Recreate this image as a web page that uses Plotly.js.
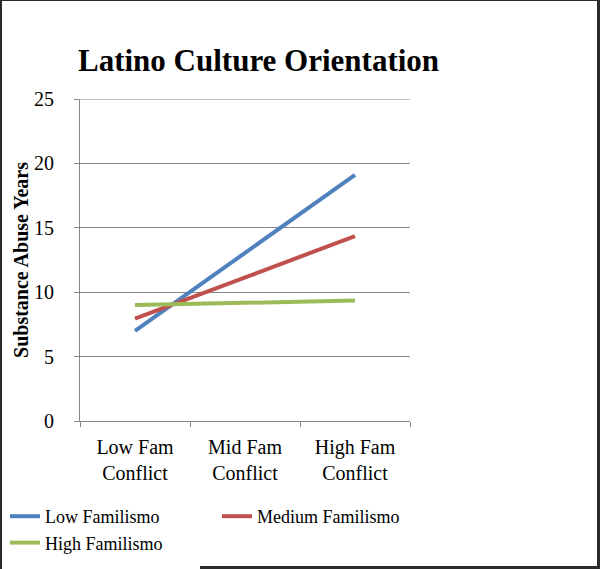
<!DOCTYPE html>
<html><head><meta charset="utf-8">
<script src="https://cdn.plot.ly/plotly-3.0.1.min.js"></script>
<style>
html,body{margin:0;padding:0;background:#fff;}
#wrap{position:relative;width:600px;height:569px;overflow:hidden;}
#chart{width:600px;height:569px;}
.b{position:absolute;background:#2b2b2b;}
</style></head>
<body>
<div id="wrap">
<div id="chart"></div>
<div class="b" style="left:0;top:0;width:2px;height:569px;"></div>
<div class="b" style="left:0;top:0;width:600px;height:1px;"></div>
<div class="b" style="left:597px;top:0;width:3px;height:569px;"></div>
<div class="b" style="left:200px;top:566px;width:400px;height:3px;"></div>
</div>
<script>
var categories = ["Low Fam<br>Conflict", "Mid Fam<br>Conflict", "High Fam<br>Conflict"];
var seriesNames = ["Low Familismo", "Medium Familismo", "High Familismo"];
var lowFamilismo = [7.0, 13.05, 19.1];
var mediumFamilismo = [7.95, 11.15, 14.35];
var highFamilismo = [9.0, 9.15, 9.35];
var colors = ["#4F81BD", "#C0504D", "#9BBB59"];
var yTicks = [0, 5, 10, 15, 20, 25];

var font = "Liberation Serif, Cambria, serif";
var all = [lowFamilismo, mediumFamilismo, highFamilismo];
var traces = all.map(function(v, i){
  return {x: categories, y: v, type: "scatter", mode: "lines", name: seriesNames[i],
          line: {color: colors[i], width: 4}};
});
var L = 80, R = 10, T = 99, B = 148;
var gw = 600 - L - R, gh = 569 - T - B;
var yMax = yTicks[yTicks.length - 1];
var layout = {
  width: 600, height: 569,
  margin: {l: L, r: R, t: T, b: B, autoexpand: false},
  paper_bgcolor: "#fff", plot_bgcolor: "rgba(0,0,0,0)",
  title: {text: "<b>Latino Culture Orientation</b>", font: {family: font, size: 31, color: "#000"},
          x: 78/600, xanchor: "left", y: 1 - 60/569, yanchor: "middle"},
  xaxis: {type: "category", domain: [0, 330/gw], range: [-0.5, 2.5], showline: true, linecolor: "#888", linewidth: 1,
          ticks: "outside", tickson: "boundaries", ticklen: 5, tickcolor: "#888", ticklabelstandoff: 8,
          showgrid: false, tickfont: {family: font, size: 20, color: "#000"}, fixedrange: true},
  yaxis: {range: [0, yMax], tickvals: yTicks, showline: true, linecolor: "#888", linewidth: 1,
          ticks: "outside", ticklen: 5, tickcolor: "#888", showgrid: true, gridcolor: "#888", gridwidth: 1,
          ticklabelstandoff: 16,
          zeroline: false, tickfont: {family: font, size: 20, color: "#000"},
          title: {text: "<b>Substance Abuse Years</b>", font: {family: font, size: 20, color: "#000"}, standoff: 0}},
  shapes: [{type: "line", xref: "x domain", x0: 0, x1: 1, yref: "y", y0: yMax, y1: yMax,
            line: {color: "#888", width: 1}, layer: "below"}],
  showlegend: true,
  legend: {orientation: "h", x: (5 - L)/gw, xanchor: "left", y: -(498 - 421)/gh, yanchor: "top",
           entrywidth: 167, entrywidthmode: "pixels", tracegroupgap: 0,
           font: {family: font, size: 18, color: "#000"}, bgcolor: "rgba(0,0,0,0)"}
};
Plotly.newPlot("chart", traces, layout, {displayModeBar: false, staticPlot: true});
</script>
</body></html>
